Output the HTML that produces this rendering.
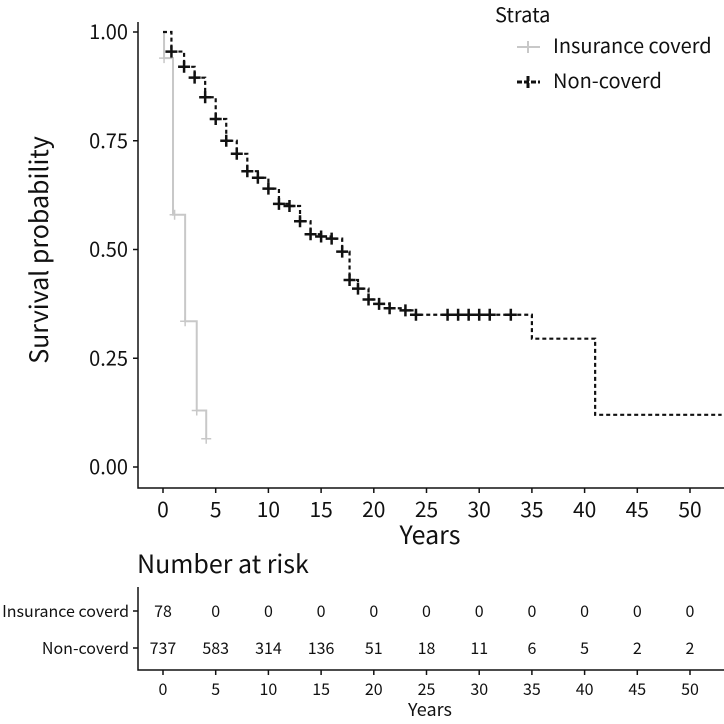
<!DOCTYPE html>
<html><head><meta charset="utf-8"><style>
body{margin:0;background:#fff;}
svg text{font-family:"Noto Sans CJK JP","Liberation Sans",sans-serif;fill:#111;}
</style></head><body>
<svg width="724" height="719" viewBox="0 0 724 719" xmlns="http://www.w3.org/2000/svg">
<g id="main"></g>
</svg>
<script>
const yearTicks=[0,5,10,15,20,25,30,35,40,45,50];
const probTicks=[0,0.25,0.5,0.75,1.0];
const insTimes=[0,0.1,0.95,2.1,3.2,4.1];
const insSurv=[1.0,0.94,0.58,0.335,0.13,0.065];
const insCensT=[0.1,1.1,2.1,3.2,4.1];
const insCensS=[0.94,0.58,0.335,0.13,0.065];
const nonTimes=[0,0.8,2,3,4,5,6,7,8,9,10,11,12,13,14,15,16,17,17.7,18.5,19.5,20.5,21.5,23,24,35,41];
const nonSurv=[1.0,0.955,0.92,0.895,0.85,0.80,0.75,0.72,0.68,0.665,0.64,0.605,0.60,0.565,0.535,0.53,0.525,0.495,0.43,0.41,0.385,0.375,0.365,0.36,0.35,0.295,0.12];
const nonCensT=[0.8,2,3,4,5,6,7,8,9,10,11,12,13,14,15,16,17,17.7,18.5,19.5,20.5,21.5,23,24,27,28,29,30,31,33];
const nonCensS=[0.955,0.92,0.895,0.85,0.80,0.75,0.72,0.68,0.665,0.64,0.605,0.60,0.565,0.535,0.53,0.525,0.495,0.43,0.41,0.385,0.375,0.365,0.36,0.35,0.35,0.35,0.35,0.35,0.35,0.35];
const riskIns=[78,0,0,0,0,0,0,0,0,0,0];
const riskNon=[737,583,314,136,51,18,11,6,5,2,2];
const tMax=53;

const NS="http://www.w3.org/2000/svg";
const g=document.getElementById('main');
const X=t=>163+t*10.54;
const Y=s=>467-s*435;
function el(tag,attrs,parent){const e=document.createElementNS(NS,tag);for(const k in attrs)e.setAttribute(k,attrs[k]);(parent||g).appendChild(e);return e;}
function txt(str,attrs){const e=el('text',attrs);e.textContent=str;return e;}

// axes
let a=el('path',{d:'M138 22 V488 H724',stroke:'#111','stroke-width':1.5,fill:'none'});


probTicks.forEach(p=>{
  const t=el('line',{x1:133,x2:138,y1:Y(p),y2:Y(p),stroke:'#111','stroke-width':1.5});
  
  
  const l=txt(p.toFixed(2),{x:128,y:Y(p)+7,'text-anchor':'end','font-size':20});
  
  
});
yearTicks.forEach(v=>{
  const t=el('line',{x1:X(v),x2:X(v),y1:488,y2:493,stroke:'#111','stroke-width':1.5});
  
  
  const l=txt(String(v),{x:X(v),y:517,'text-anchor':'middle','font-size':21});
  
  
});
let xt=txt('Years',{x:430,y:544,'text-anchor':'middle','font-size':25});


let yt=txt('Survival probability',{x:0,y:0,'text-anchor':'middle','font-size':25,transform:'translate(48,250) rotate(-90)'});



function stepPath(ts,ss,end){let d='M'+X(ts[0])+' '+Y(ss[0]);for(let i=1;i<ts.length;i++){d+=' H'+X(ts[i])+' V'+Y(ss[i]);}d+=' H'+X(end);return d;}
function cross(t,s,col,w,sz){
  const c=el('path',{d:`M${X(t)-sz} ${Y(s)} H${X(t)+sz} M${X(t)} ${Y(s)-sz} V${Y(s)+sz}`,stroke:col,'stroke-width':w});
  
  
}
let ip=el('path',{d:stepPath(insTimes,insSurv,insCensT[insCensT.length-1]),stroke:'#c8c8c8','stroke-width':2,fill:'none'});


insCensT.forEach((t,i)=>cross(t,insCensS[i],'#c8c8c8',1.5,5));
let np=el('path',{d:stepPath(nonTimes,nonSurv,tMax),stroke:'#111','stroke-width':2.2,fill:'none','stroke-dasharray':'4 3'});


nonCensT.forEach((t,i)=>cross(t,nonCensS[i],'#111',2.5,6));

// legend
let st=txt('Strata',{x:495,y:22,'font-size':20});


let le1=el('path',{d:'M517 47 H540 M528 41 V53',stroke:'#c8c8c8','stroke-width':2});


let lt1=txt('Insurance coverd',{x:553,y:53,'font-size':20});


let le2=el('path',{d:'M517 82 H540 M528 76 V88',stroke:'#111','stroke-width':3,'stroke-dasharray':'5 2'});


let lt2=txt('Non-coverd',{x:553,y:88,'font-size':20});



// risk table
let rt=txt('Number at risk',{x:137,y:573,'font-size':25});


let ra=el('path',{d:'M138 587 V670 H724',stroke:'#111','stroke-width':1.5,fill:'none'});


[['Insurance coverd',611,riskIns],['Non-coverd',648,riskNon]].forEach(([name,y,vals])=>{
  const l=txt(name,{x:129,y:y+6,'text-anchor':'end','font-size':16});
  
  
  el('line',{x1:133,x2:138,y1:y,y2:y,stroke:'#111','stroke-width':1.5});
  vals.forEach((v,i)=>{
    const c=txt(String(v),{x:X(yearTicks[i]),y:y+6,'text-anchor':'middle','font-size':16});
    
    
  });
});
yearTicks.forEach(v=>{
  el('line',{x1:X(v),x2:X(v),y1:670,y2:675,stroke:'#111','stroke-width':1.5});
  const l=txt(String(v),{x:X(v),y:695,'text-anchor':'middle','font-size':16});
  
  
});
let ry=txt('Years',{x:430,y:716,'text-anchor':'middle','font-size':18,fill:'#444'});


</script>
</body></html>
